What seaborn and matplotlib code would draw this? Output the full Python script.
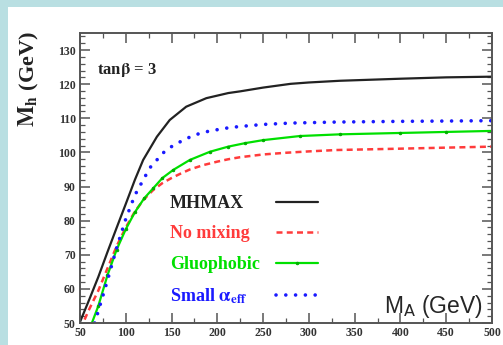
import numpy as np
import pandas as pd
import matplotlib
matplotlib.use("Agg")
import matplotlib.pyplot as plt
from matplotlib.patches import Rectangle
from matplotlib.ticker import MultipleLocator
import seaborn as sns

# ---- data ----
mhmax_x = [50, 60, 70, 80, 90, 100, 110, 119, 134, 148, 166, 188, 212, 225, 250, 280, 300, 334, 400, 450, 500]
mhmax_y = [50.3, 56.8, 63.5, 70.8, 77.9, 84.9, 92, 97.8, 104.6, 109.5, 113.4, 115.9, 117.4, 117.9, 119, 120.1, 120.5, 121, 121.6, 122, 122.2]

nomix_x = [55, 60, 70, 80, 90, 100, 110, 120, 130, 140, 150, 160, 170, 185, 200, 212, 225, 250, 275, 300, 330, 400, 450, 500]
nomix_y = [51, 54, 59.5, 66, 72.5, 78, 82.7, 86.3, 89, 91, 92.5, 93.8, 95, 96.3, 97.3, 98, 98.6, 99.4, 99.9, 100.3, 100.7, 101.1, 101.4, 101.7]

gluo_x = [63, 70, 80, 90, 100, 110, 120, 130, 140, 152, 170, 192, 212, 230, 250, 290, 334, 400, 450, 500]
gluo_y = [50, 55, 64, 71.5, 77.5, 82.5, 86.5, 89.5, 92.5, 94.9, 97.8, 100.2, 101.7, 102.7, 103.6, 104.8, 105.3, 105.7, 106, 106.3]

small_x = [66, 70, 80, 90, 100, 110, 121, 127, 134, 141, 150, 160, 170, 181, 192, 203, 214, 225, 250, 280, 330, 400, 450, 500]
small_y = [50, 53.5, 62.5, 72, 80.5, 87.5, 92.9, 95.7, 97.8, 99.9, 101.7, 103.2, 104.5, 105.6, 106.3, 106.8, 107.3, 107.6, 108.2, 108.6, 108.9, 109.1, 109.2, 109.3]

labels = ["MHMAX", "No mixing", "Gluophobic", r"Small $\mathbf{\alpha_{eff}}$"]
x_ticks = [50, 100, 150, 200, 250, 300, 350, 400, 450, 500]
y_ticks = [50, 60, 70, 80, 90, 100, 110, 120, 130]

colors = ["#222222", "#ff3b3b", "#00e000", "#1a1aff"]

sns.set_theme(style="ticks")
plt.rcParams["mathtext.fontset"] = "stix"
plt.rcParams["font.family"] = ["Liberation Serif", "DejaVu Serif"]

fig = plt.figure(figsize=(5.03, 3.45), dpi=100)
fig.patch.set_facecolor("#b9dfe2")
fig.patches.append(Rectangle((8 / 503, 0), 1, 1 - 7 / 345, transform=fig.transFigure,
                             facecolor="white", edgecolor="none", zorder=-10))
ax = fig.add_axes([80 / 503, 1 - 323 / 345, 412 / 503, 290 / 345])
ax.set_zorder(5)
ax.set_facecolor("white")

series = [(mhmax_x, mhmax_y), (nomix_x, nomix_y), (gluo_x, gluo_y), (small_x, small_y)]
frames = []
for lab, (xs, ys) in zip(labels, series):
    frames.append(pd.DataFrame({"MA": xs, "Mh": ys, "scenario": lab}))
df = pd.concat(frames, ignore_index=True)

for i, lab in enumerate(labels):
    sub = df[df["scenario"] == lab]
    sns.lineplot(data=sub, x="MA", y="Mh", ax=ax, sort=False, estimator=None,
                 color=colors[i], label=lab, legend=False)

lines = ax.get_lines()
lines[0].set_linewidth(1.6)
lines[1].set_linewidth(1.8)
lines[1].set_dashes((2.4, 1.7))
lines[2].set_linewidth(1.6)
lines[2].set_marker(".")
lines[2].set_markersize(3.5)
lines[2].set_markerfacecolor("#00b000")
lines[2].set_markeredgecolor("#00b000")
lines[3].set_linewidth(2.6)
lines[3].set_dashes((0.01, 2.7))
lines[3].set_dash_capstyle("round")
for ln in lines:
    ln.set_solid_joinstyle("round")

ax.set_xlim(50, 500)
ax.set_ylim(50, 135)
ax.set_xticks(x_ticks)
ax.set_yticks(y_ticks)
ax.xaxis.set_minor_locator(MultipleLocator(25))
ax.yaxis.set_minor_locator(MultipleLocator(2))
ax.tick_params(which="major", direction="in", length=7, width=1.1, color="#555555",
               top=True, right=True, labelsize=8.5, labelcolor="#333333", pad=3)
ax.tick_params(which="minor", direction="in", length=3.5, width=0.9, color="#555555",
               top=True, right=True)
for lbl in ax.get_xticklabels() + ax.get_yticklabels():
    lbl.set_fontweight("bold")
for s in ax.spines.values():
    s.set_color("#555555")
    s.set_linewidth(1.4)

ax.set_xlabel("")
ax.set_ylabel(r"$\mathbf{M_h}$ (GeV)", fontsize=16, fontweight="bold", color="#222222")
ax.yaxis.set_label_coords(-0.095, 0.84)

ax.text(0.041, 0.86, r"tan$\mathbf{\beta}$ = 3", transform=ax.transAxes, fontsize=12,
        fontweight="bold", color="#222222")
ax.text(0.978, 0.012, r"M$_\mathrm{A}$ (GeV)", transform=ax.transAxes, fontsize=16.5,
        ha="right", va="bottom", family="Liberation Sans", math_fontfamily="dejavusans")

# legend: handles via matplotlib legend (labels hidden), labels drawn left-aligned
leg = ax.legend(loc="upper right", bbox_to_anchor=((318 - 80) / 412, (323 - 197) / 290),
                markerfirst=False, frameon=False, borderaxespad=0, borderpad=0,
                handlelength=2.9, handletextpad=0.0, labelspacing=1.17,
                prop={"family": "Liberation Serif", "weight": "bold", "size": 10.5})
for t in leg.get_texts():
    t.set_alpha(0)
fig.canvas.draw()
inv = ax.transAxes.inverted()
for t, c, lab in zip(leg.get_texts(), colors, labels):
    bb = t.get_window_extent()
    ycen = inv.transform((0, (bb.y0 + bb.y1) / 2))[1]
    ax.text((170 - 80) / 412, ycen, lab, transform=ax.transAxes, ha="left", va="center",
            color=c, family="Liberation Serif", fontweight="bold", fontsize=13)

fig.savefig("out.png", dpi=100, facecolor=fig.get_facecolor())
